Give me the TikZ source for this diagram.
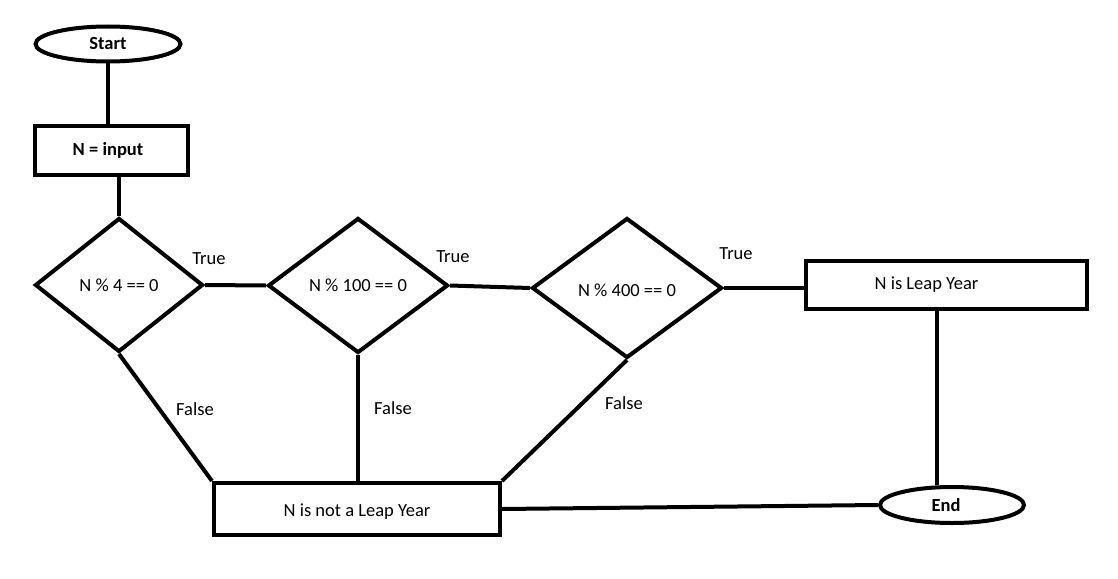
\documentclass[tikz,border=0pt]{standalone}
\usepackage{fontspec}
\setmainfont{Carlito}
\usetikzlibrary{shapes.geometric}
\begin{document}
\begin{tikzpicture}[x=1pt,y=-1pt,
  every node/.style={font=\fontsize{18.5}{20}\selectfont},
  shp/.style={draw=black,line width=4pt,fill=white,inner sep=0pt},
  terminal/.style={shp,ellipse,font=\fontsize{18.5}{20}\selectfont\bfseries},
  procbox/.style={shp,rectangle},
  decision/.style={shp,diamond},
  link/.style={line width=4pt,draw=black},
  lbl/.style={inner sep=0pt}]
\useasboundingbox (0,0) rectangle (1118,578);
\fill[white] (0,0) rectangle (1118,578);

% shapes
\node[terminal,minimum width=145pt,minimum height=35pt] (start) at (108,44) {Start};
\node[procbox,minimum width=153pt,minimum height=49pt,font=\fontsize{18.5}{20}\selectfont\bfseries] (input) at (111.5,150) {\hspace*{-7pt}N = input};
\node[decision,minimum width=168pt,minimum height=134pt] (d1) at (119,285) {N \% 4 == 0};
\node[decision,minimum width=180pt,minimum height=135pt] (d2) at (358,285.5) {N \% 100 == 0};
\node[decision,minimum width=190pt,minimum height=140pt] (d3) at (627,288) {\raisebox{-2pt}[\height][\depth]{N \% 400 == 0}};
\node[procbox,minimum width=281pt,minimum height=48pt] (leap) at (946.5,285) {\hspace*{-40pt}N is Leap Year};
\node[procbox,minimum width=286pt,minimum height=52pt] (notleap) at (357,509) {\raisebox{-3pt}[\height][\depth]{N is not a Leap Year}};
\node[terminal,minimum width=144pt,minimum height=36pt] (end) at (952,505) {\hspace*{-12pt}End};

% connectors
\draw[link] (start.south) -- (start.south |- input.north);
\draw[link] (d1.north |- input.south) -- (d1.north);
\draw[link] (d1.east) -- (d2.west);
\draw[link] (d2.east) -- (d3.west);
\draw[link] (d3.east) -- (d3.east -| leap.west);
\draw[link] ([xshift=-10pt]leap.south) -- ([xshift=-10pt]leap.south |- end.north);
\draw[link] (d1.south) -- (notleap.north west);
\draw[link] (d2.south) -- (d2.south |- notleap.north);
\draw[link] (d3.south) -- (notleap.north east);
\draw[link] (notleap.east) -- (end.west);

% branch labels
\node[lbl] (t1) at (209,259) {True};
\node[lbl] (t2) at (453,257) {True};
\node[lbl] (t3) at (736,254) {True};
\node[lbl] (f1) at (195,409) {False};
\node[lbl] (f2) at (393,408) {False};
\node[lbl] (f3) at (624,403) {False};
\end{tikzpicture}
\end{document}
